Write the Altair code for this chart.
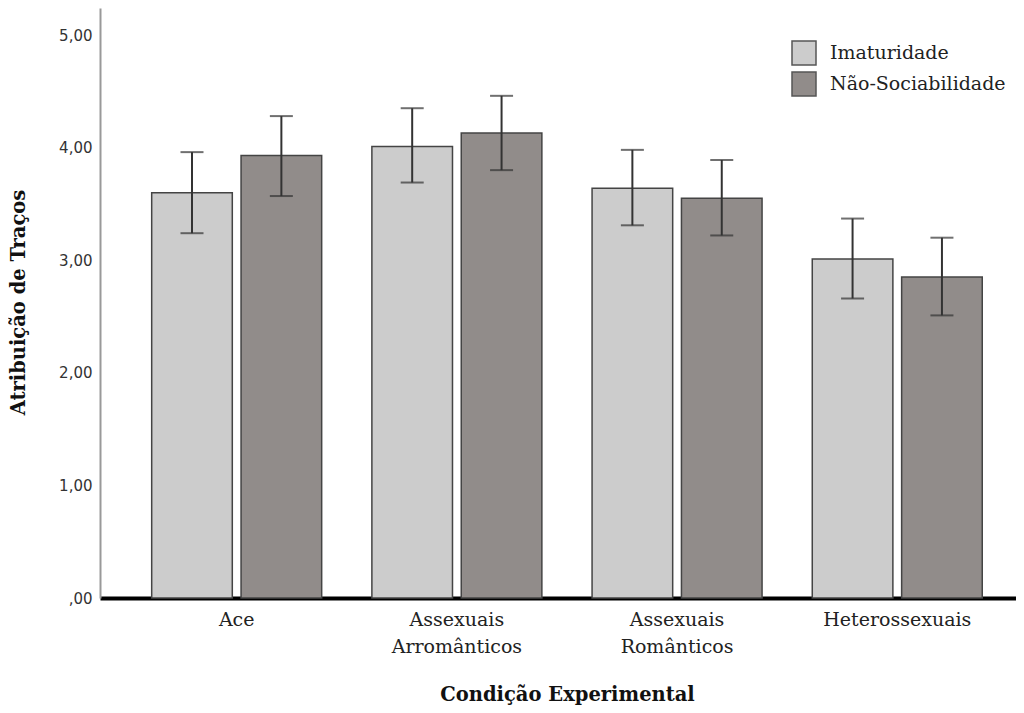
import altair as alt
import pandas as pd

categories = ["Ace", "Assexuais Arromânticos", "Assexuais Românticos", "Heterossexuais"]
series = ["Imaturidade", "Não-Sociabilidade"]
imat_mean = [3.60, 4.01, 3.64, 3.01]
imat_low = [3.24, 3.69, 3.31, 2.66]
imat_high = [3.96, 4.35, 3.98, 3.37]
nao_mean = [3.93, 4.13, 3.55, 2.85]
nao_low = [3.57, 3.80, 3.22, 2.51]
nao_high = [4.28, 4.46, 3.89, 3.20]
y_ticks = [0, 1, 2, 3, 4, 5]
colors = ["#cccccc", "#918c8a"]

rows = []
for i, c in enumerate(categories):
    rows.append({"cond": c, "serie": series[0], "mean": imat_mean[i], "lo": imat_low[i], "hi": imat_high[i]})
    rows.append({"cond": c, "serie": series[1], "mean": nao_mean[i], "lo": nao_low[i], "hi": nao_high[i]})
df = pd.DataFrame(rows)

x_enc = alt.X(
    "cond:N",
    sort=categories,
    scale=alt.Scale(paddingInner=0.228, paddingOuter=0.194, align=0.605),
    axis=alt.Axis(
        title="Condição Experimental",
        labelAngle=0,
        labelExpr="split(datum.label, ' ')",
        labelFont="DejaVu Serif",
        labelFontSize=19,
        labelLineHeight=27,
        labelPadding=12,
        labelColor="#222",
        ticks=False,
        grid=False,
        domainColor="#000000",
        domainWidth=4,
        titleFont="DejaVu Serif",
        titleFontSize=19.5,
        titleFontWeight="bold",
        titleColor="#111",
        titleX=467,
        titleY=102,
        titleBaseline="alphabetic",
    ),
)
xo_enc = alt.XOffset("serie:N", sort=series, scale=alt.Scale(paddingInner=0.098, paddingOuter=0))

y_scale = alt.Scale(domain=[0, 5.24], nice=False)

bars = alt.Chart(df).mark_bar(stroke="#444444", strokeWidth=1.5).encode(
    x=x_enc,
    xOffset=xo_enc,
    y=alt.Y(
        "mean:Q",
        scale=y_scale,
        axis=alt.Axis(
            title="Atribuição de Traços",
            values=y_ticks,
            labelExpr="datum.value == 0 ? ',00' : replace(format(datum.value, '.2f'), '.', ',')",
            labelFont="DejaVu Sans",
            labelFontSize=15,
            labelColor="#333",
            labelPadding=8,
            ticks=False,
            grid=False,
            domainColor="#999999",
            domainWidth=2,
            titleFont="DejaVu Serif",
            titleFontSize=19.5,
            titleFontWeight="bold",
            titleColor="#111",
            titleX=-82,
            titleY=294,
            titleBaseline="middle",
        ),
    ),
    color=alt.Color(
        "serie:N",
        sort=series,
        scale=alt.Scale(domain=series, range=colors),
        legend=alt.Legend(
            title=None,
            orient="none",
            legendX=691,
            legendY=32,
            symbolType="square",
            symbolSize=576,
            symbolStrokeColor="#555555",
            symbolStrokeWidth=1.5,
            labelFont="DejaVu Serif",
            labelFontSize=19,
            labelColor="#222",
            labelOffset=13,
            labelLimit=0,
            rowPadding=1,
            padding=0,
        ),
    ),
)

x_plain = alt.X("cond:N", sort=categories)
xo_plain = alt.XOffset("serie:N", sort=series)

rules = alt.Chart(df).mark_rule(color="#333333", strokeWidth=2).encode(
    x=x_plain,
    xOffset=xo_plain,
    y=alt.Y("lo:Q", scale=y_scale),
    y2="hi:Q",
)
caps_lo = alt.Chart(df).mark_tick(color="#333333", thickness=2, size=23, orient="horizontal").encode(
    x=x_plain,
    xOffset=xo_plain,
    y=alt.Y("lo:Q", scale=y_scale),
)
caps_hi = alt.Chart(df).mark_tick(color="#333333", thickness=2, size=23, orient="horizontal").encode(
    x=x_plain,
    xOffset=xo_plain,
    y=alt.Y("hi:Q", scale=y_scale),
)

chart = (
    alt.layer(bars, rules, caps_lo, caps_hi)
    .properties(
        width=916,
        height=590,
        background="white",
        autosize=alt.AutoSizeParams(type="none"),
        padding={"left": 92, "top": 0, "right": 0, "bottom": 110},
    )
    .configure_view(stroke=None)
)

chart.save("out.html", embed_options={"renderer": "svg", "actions": False})
